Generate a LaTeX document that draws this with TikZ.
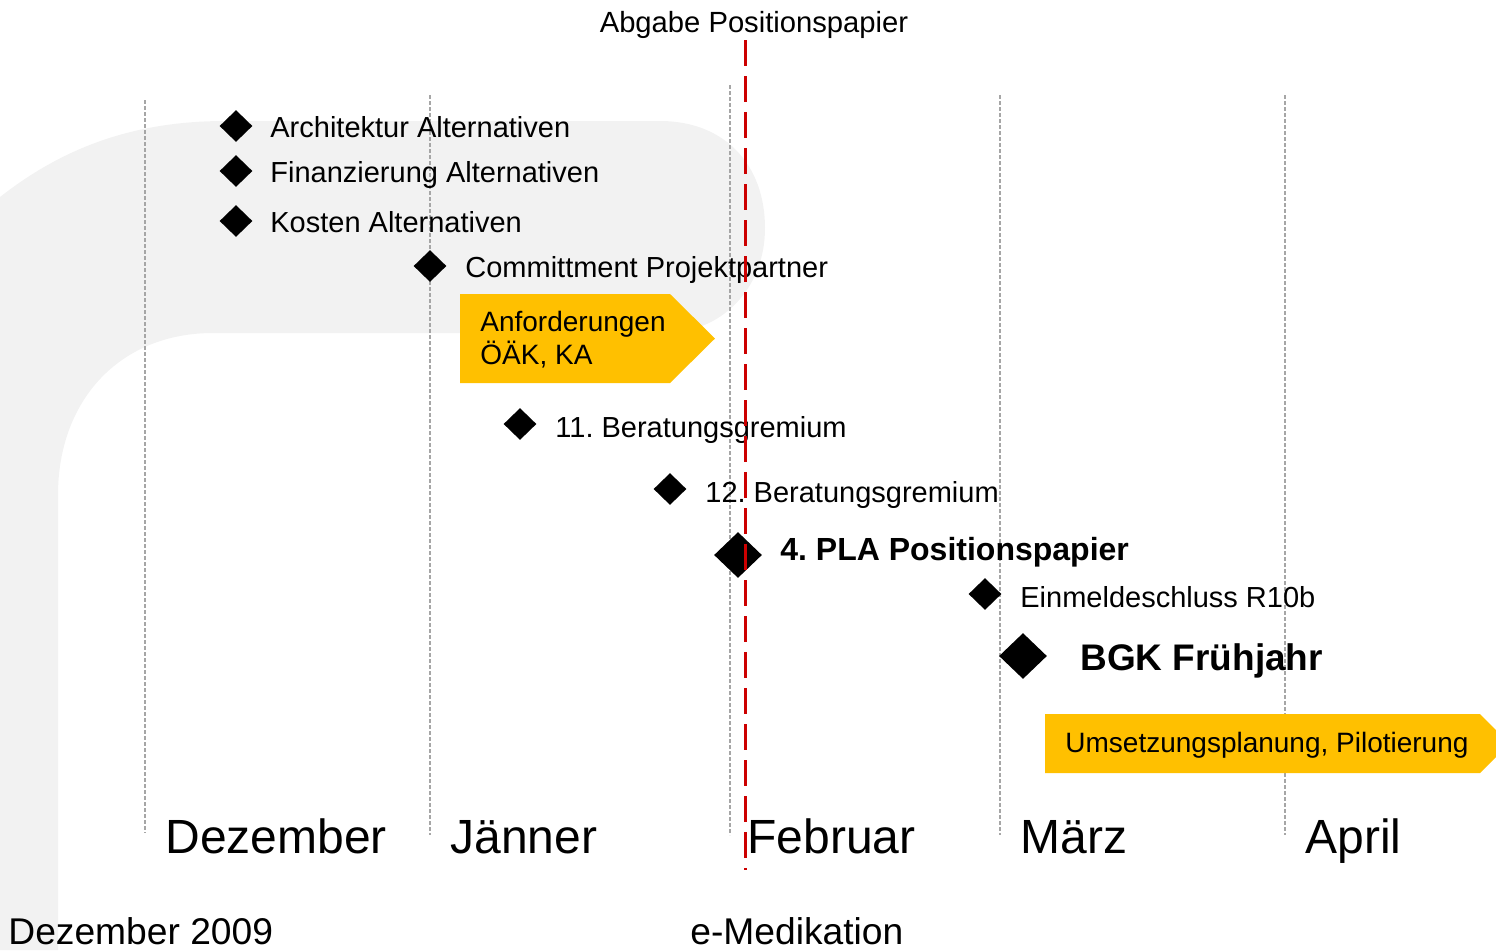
\documentclass[tikz,border=0pt]{standalone}
\usepackage{fontspec}
\setmainfont{Liberation Sans}
\usetikzlibrary{shapes.geometric}
\definecolor{bggray}{HTML}{F2F2F2}
\definecolor{gold}{HTML}{FFC000}
\definecolor{darkred}{HTML}{CC0000}
\definecolor{lgray}{HTML}{A6A6A6}
\frenchspacing
\begin{document}
\frenchspacing
\begin{tikzpicture}[x=0.5pt,y=-0.5pt,
  ms/.style={diamond, fill=black, inner sep=0pt, minimum width=16.5pt, minimum height=16pt},
  bigms/.style={diamond, fill=black, inner sep=0pt, minimum width=24pt, minimum height=23pt},
  lbl/.style={anchor=base west, inner sep=0pt, font=\fontsize{14.5pt}{17pt}\selectfont},
  boxlbl/.style={anchor=base west, inner sep=0pt, font=\fontsize{14pt}{17pt}\selectfont},
  month/.style={anchor=base west, inner sep=0pt, font=\fontsize{24pt}{28pt}\selectfont},
  foot/.style={anchor=base west, inner sep=0pt, font=\fontsize{18.6pt}{22pt}\selectfont},
  gridline/.style={draw=lgray, line width=0.7pt, dash pattern=on 2pt off 1pt},
  redline/.style={draw=darkred, line width=1.5pt, dash pattern=on 13pt off 5pt},
  goldarrow/.style={fill=gold}
]
\useasboundingbox (0,0) rectangle (1496,950);
% background shape
\fill[bggray] (0,950) -- (0,197) .. controls (60,150) and (130,121) .. (225,121)
  -- (660,121) .. controls (725,121) and (765,165) .. (765,228)
  .. controls (765,290) and (720,333) .. (665,333)
  -- (213,333) .. controls (120,333) and (58,400) .. (58,495) -- (58,950) -- cycle;
% month grid lines
\coordinate (g1a) at (145,100); \coordinate (g1b) at (145,833);
\coordinate (g2a) at (430,95);  \coordinate (g2b) at (430,835);
\coordinate (g3a) at (730,85);  \coordinate (g3b) at (730,835);
\coordinate (g4a) at (1000,95); \coordinate (g4b) at (1000,835);
\coordinate (g5a) at (1285,95); \coordinate (g5b) at (1285,835);
\foreach \i in {1,...,5} {\draw[gridline] (g\i a) -- (g\i b);}
% yellow arrows
\fill[goldarrow] (460,294) -- (670,294) -- (715,338.5) -- (670,383) -- (460,383) -- cycle;
\fill[goldarrow] (1045,714) -- (1480,714) -- (1496,730) -- (1496,757) -- (1480,773) -- (1045,773) -- cycle;
\node[boxlbl] (anf1) at (480,331.7) {Anforderungen};
\node[boxlbl] (anf2) at (480,364.5) {ÖÄK, KA};
\node[boxlbl] (ums) at (1065,752) {Umsetzungsplanung, Pilotierung};
% milestones
\node[ms] (d1) at (236,126) {};
\node[ms] (d2) at (236,171) {};
\node[ms] (d3) at (236,221) {};
\node[ms] (d4) at (430,266) {};
\node[ms] (d5) at (520,424) {};
\node[ms] (d6) at (670,489) {};
\node[bigms] (d7) at (738,555) {};
\node[ms] (d8) at (985,594) {};
\node[bigms] (d9) at (1023,656) {};
\node[lbl] (t1) at (270,137.5) {Architektur Alternativen};
\node[lbl] (t2) at (270,182.5) {Finanzierung Alternativen};
\node[lbl] (t3) at (270,232.5) {Kosten Alternativen};
\node[lbl] (t4) at (465,277.5) {Committment Projektpartner};
\node[lbl] (t5) at (555,437) {11. Beratungsgremium};
\node[lbl] (t6) at (705,502) {12. Beratungsgremium};
\node[anchor=base west, inner sep=0pt, font=\fontsize{16pt}{19pt}\selectfont\bfseries] (t7) at (780,560) {4. PLA Positionspapier};
\node[lbl] (t8) at (1020,607) {Einmeldeschluss R10b};
\node[anchor=base west, inner sep=0pt, font=\fontsize{18.5pt}{22pt}\selectfont\bfseries] (t9) at (1080,670) {BGK Frühjahr};
% months
\node[month] (m1) at (165,853) {Dezember};
\node[month] (m2) at (450,853) {Jänner};
\node[month] (m3) at (747,853) {Februar};
\node[month] (m4) at (1020,853) {März};
\node[month] (m5) at (1305,853) {April};
% footer
\node[foot] (f1) at (8,944.5) {Dezember 2009};
\node[foot] (f2) at (690,944.5) {e-Medikation};
% deadline
\node[anchor=base, inner sep=0pt, font=\fontsize{14.6pt}{17pt}\selectfont] (abg) at (754,32) {Abgabe Positionspapier};
\coordinate (rtop) at (745,40);
\coordinate (rbot) at (745,870);
\draw[redline] (rtop) -- (rbot);
\end{tikzpicture}
\end{document}
